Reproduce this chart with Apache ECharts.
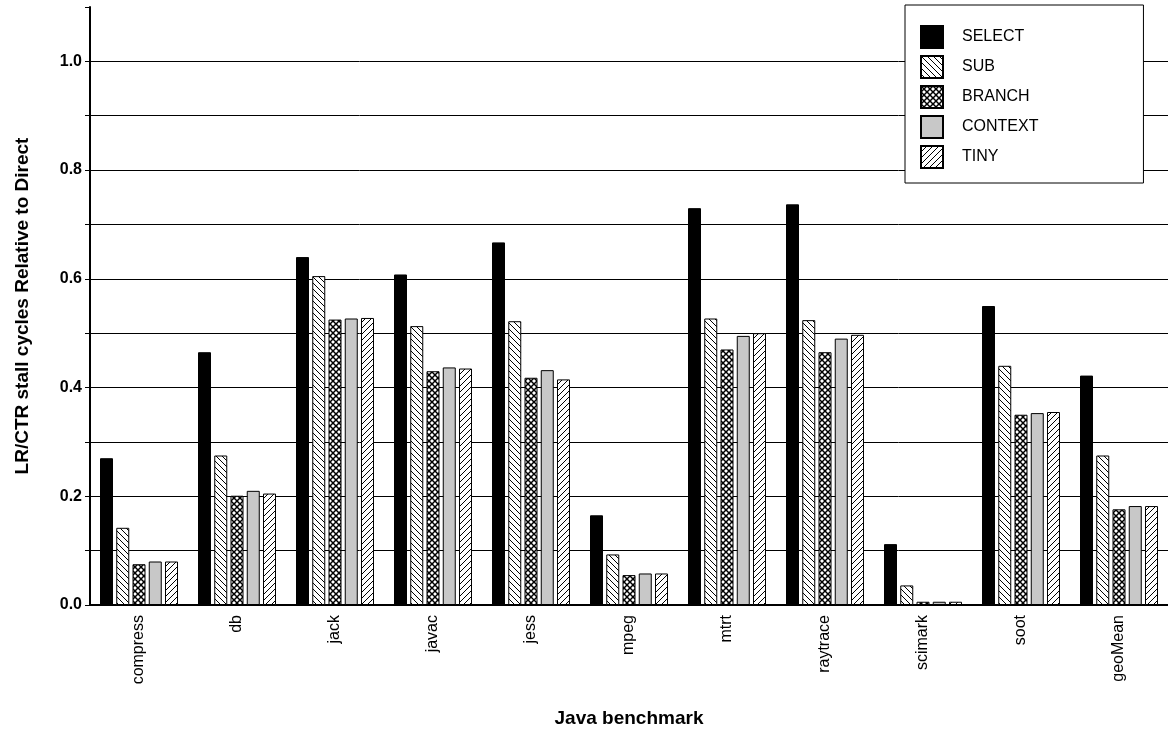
<!DOCTYPE html>
<html>
<head>
<meta charset="utf-8">
<script src="https://cdn.jsdelivr.net/npm/echarts@6/dist/echarts.min.js"></script>
<style>
html, body { margin: 0; padding: 0; background: #fff; }
#chart { width: 1168px; height: 733px; }
</style>
</head>
<body>
<div id="chart"></div>
<script>
var benchmarks = ['compress', 'db', 'jack', 'javac', 'jess', 'mpeg', 'mtrt', 'raytrace', 'scimark', 'soot', 'geoMean'];
var select  = [0.270, 0.465, 0.640, 0.608, 0.667, 0.165, 0.730, 0.737, 0.112, 0.550, 0.422];
var sub     = [0.142, 0.275, 0.605, 0.513, 0.522, 0.093, 0.527, 0.524, 0.036, 0.440, 0.275];
var branch  = [0.075, 0.201, 0.525, 0.430, 0.418, 0.055, 0.470, 0.465, 0.006, 0.350, 0.176];
var context = [0.080, 0.210, 0.527, 0.437, 0.432, 0.058, 0.495, 0.490, 0.006, 0.353, 0.182];
var tiny    = [0.080, 0.205, 0.528, 0.435, 0.415, 0.058, 0.500, 0.497, 0.006, 0.355, 0.182];

// hatch patterns drawn on small canvases
function hatch(kind) {
    var s = 6, c = document.createElement('canvas');
    c.width = s; c.height = s;
    var g = c.getContext('2d');
    g.fillStyle = '#fff'; g.fillRect(0, 0, s, s);
    g.strokeStyle = '#000'; g.lineWidth = 1;
    function back() { g.beginPath(); g.moveTo(-1, -1); g.lineTo(s + 1, s + 1); g.stroke(); }
    function fwd() { g.beginPath(); g.moveTo(-1, s + 1); g.lineTo(s + 1, -1); g.stroke(); }
    if (kind === 'back') back();
    if (kind === 'fwd') fwd();
    if (kind === 'cross') { g.lineWidth = 1.5; back(); fwd(); }
    return { image: c, repeat: 'repeat' };
}

function bar(name, data, fill) {
    return {
        name: name, type: 'bar', data: data,
        barWidth: 13, barGap: '25%',
        itemStyle: { color: fill, borderColor: '#000', borderWidth: 1 }
    };
}

var chart = echarts.init(document.getElementById('chart'));
chart.setOption({
    animation: false,
    textStyle: { fontFamily: 'Liberation Sans, Arial, sans-serif', color: '#000' },
    grid: { left: 90, right: 0, top: 7, bottom: 127 },
    legend: {
        left: 905, top: 5, orient: 'vertical',
        padding: [20, 105, 14, 15], itemGap: 6,
        itemWidth: 22, itemHeight: 22, icon: 'rect',
        backgroundColor: '#fff', borderColor: '#000', borderWidth: 1,
        textStyle: { fontSize: 16, color: '#000', padding: [0, 0, 0, 14] },
        data: ['SELECT', 'SUB', 'BRANCH', 'CONTEXT', 'TINY']
    },
    xAxis: {
        type: 'category', data: benchmarks,
        axisLine: { lineStyle: { color: '#000', width: 2 } },
        axisTick: { show: false },
        axisLabel: { rotate: 90, fontSize: 16, color: '#000', margin: 10 },
        name: 'Java benchmark', nameLocation: 'middle', nameGap: 104,
        nameTextStyle: { fontSize: 19, fontWeight: 'bold', color: '#000' }
    },
    yAxis: {
        type: 'value', min: 0, max: 1.1, interval: 0.1,
        axisLine: { show: true, lineStyle: { color: '#000', width: 2 } },
        axisTick: { show: true, length: 5, lineStyle: { color: '#000' } },
        splitLine: { showMaxLine: false, lineStyle: { color: '#000', width: 1 } },
        axisLabel: {
            fontSize: 16, fontWeight: 'bold', color: '#000',
            formatter: function (v) {
                var k = Math.round(v * 10);
                return (k % 2 === 0 && k <= 10) ? (k / 10).toFixed(1) : '';
            }
        },
        name: 'LR/CTR stall cycles Relative to Direct', nameLocation: 'middle', nameGap: 58,
        nameTextStyle: { fontSize: 19, fontWeight: 'bold', color: '#000' }
    },
    series: [
        bar('SELECT', select, '#000'),
        bar('SUB', sub, hatch('back')),
        bar('BRANCH', branch, hatch('cross')),
        bar('CONTEXT', context, '#c8c8c8'),
        bar('TINY', tiny, hatch('fwd'))
    ]
});
</script>
</body>
</html>
